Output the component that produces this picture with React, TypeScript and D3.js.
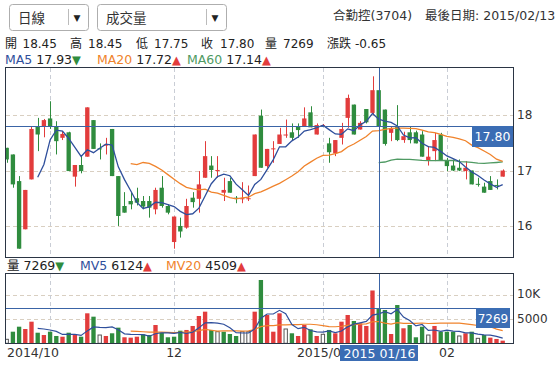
import React, { useEffect, useRef } from "react"
import * as d3 from "d3"

// daily bars 2014/10/23 .. 2015/02/13
const opens = [17.41, 17.29, 16.81, 15.94, 16.84, 17.80, 17.79, 17.94, 17.79, 17.59,
  17.69, 16.89, 17.10, 17.25, 17.91, 17.40, 17.45, 17.75, 16.90, 16.36,
  16.45, 16.50, 16.45, 16.45, 16.30, 16.69, 16.36, 15.71, 16.00, 15.97,
  16.51, 16.49, 16.87, 17.09, 17.00, 16.60, 16.81, 16.51, 16.50, 16.49,
  16.90, 17.99, 17.08, 17.39, 17.48, 17.65, 17.69, 17.79, 17.80, 18.05,
  17.65, 17.82, 17.49, 17.31, 17.59, 17.95, 18.19, 17.74, 18.11, 18.04,
  18.45, 18.10, 17.68, 17.80, 17.55, 17.69, 17.69, 17.65, 17.18, 17.35,
  17.65, 17.19, 17.09, 17.05, 16.99, 17.00, 16.76, 16.71, 16.81, 16.74, 16.89]
const highs = [17.41, 17.29, 16.90, 16.65, 17.80, 17.95, 17.93, 18.25, 17.89, 17.71,
  17.70, 17.10, 17.27, 18.14, 17.91, 17.49, 17.59, 17.75, 16.90, 16.61,
  16.61, 16.69, 16.54, 16.54, 16.69, 16.90, 16.39, 16.17, 16.15, 16.49,
  16.61, 16.99, 17.53, 17.26, 17.26, 16.87, 16.87, 16.54, 16.79, 16.73,
  17.65, 18.10, 17.39, 17.53, 17.77, 17.92, 17.85, 17.85, 18.14, 18.16,
  17.85, 17.84, 17.59, 17.55, 17.86, 18.37, 18.19, 17.89, 18.11, 18.70,
  18.45, 18.10, 17.80, 18.18, 17.70, 17.79, 17.72, 17.71, 17.44, 17.68,
  17.68, 17.23, 17.20, 17.20, 17.17, 17.00, 16.87, 16.78, 16.90, 16.84, 17.02]
const lows = [17.14, 16.69, 15.59, 15.94, 16.84, 17.35, 17.60, 17.75, 17.29, 17.55,
  16.99, 16.71, 16.95, 17.25, 17.39, 17.20, 17.29, 16.90, 16.00, 16.24,
  16.30, 16.37, 16.30, 16.15, 16.21, 16.33, 16.21, 15.59, 15.79, 15.95,
  16.33, 16.24, 16.87, 16.87, 16.87, 16.45, 16.60, 16.41, 16.41, 16.45,
  16.90, 17.05, 17.05, 17.14, 17.48, 17.59, 17.55, 17.59, 17.80, 17.78,
  17.65, 17.80, 17.14, 17.26, 17.47, 17.77, 17.65, 17.74, 17.85, 18.00,
  17.75, 17.45, 17.53, 17.53, 17.50, 17.49, 17.49, 17.25, 17.09, 17.17,
  17.19, 16.99, 16.99, 16.99, 16.84, 16.75, 16.71, 16.60, 16.65, 16.66, 16.89]
const closes = [17.20, 16.75, 15.59, 16.65, 17.75, 17.65, 17.91, 17.80, 17.53, 17.66,
  16.99, 17.10, 16.99, 18.14, 17.39, 17.39, 17.47, 16.90, 16.18, 16.24,
  16.39, 16.42, 16.35, 16.33, 16.65, 16.36, 16.24, 16.17, 15.90, 16.36,
  16.43, 16.75, 17.26, 17.01, 17.01, 16.65, 16.60, 16.50, 16.50, 16.50,
  17.65, 17.05, 17.39, 17.40, 17.65, 17.65, 17.59, 17.73, 17.94, 17.78,
  17.82, 17.82, 17.33, 17.55, 17.75, 18.31, 17.65, 17.86, 17.87, 18.45,
  17.80, 17.48, 17.75, 17.55, 17.62, 17.55, 17.49, 17.25, 17.25, 17.55,
  17.19, 17.08, 17.00, 17.00, 17.05, 16.75, 16.75, 16.60, 16.65, 16.73, 17.00]
const volumes = [830, 2410, 3450, 2970, 4490, 2200, 1720, 2410, 1520, 1370,
  2200, 1720, 1370, 6230, 5530, 1720, 1520, 2080, 3250, 1250,
  1170, 1370, 1870, 1720, 3800, 2200, 1250, 1370, 2620, 2770,
  3600, 5670, 6570, 2770, 2410, 2410, 1930, 1520, 2410, 2410,
  6570, 13150, 5880, 2410, 6230, 2970, 2080, 1520, 3800, 2910,
  1520, 1870, 2770, 2080, 4490, 5880, 4630, 4150, 3600, 10970,
  7269, 6920, 1930, 7950, 3120, 3800, 1250, 3450, 1720, 3600,
  2410, 2410, 2410, 1520, 2080, 2410, 1030, 1720, 1170, 900, 550]

const gridIdx = [7, 27, 51, 71]
const tickIdx = [0, 27, 51, 71]
const tickLabels = ["2014/10", "12", "2015/01", "02"]
const priceTicks = [16, 17, 18]
const volTicks = [5000, 10000]
const volTickLabels = ["5000", "10K"]
const selIdx = 60
const selDate = "2015 01/16"
const stockName = "合勤控(3704)"
const lastDate = "最後日期: 2015/02/13"

const RED = "#e23c3c"
const GREEN = "#2f8c3e"
const BLUE = "#2f4f9c"
const ORANGE = "#f0832c"
const MA60C = "#4f9a63"
const CROSS = "#3a64a6"
const BOX = "#3b6db4"
const FONT = "'DejaVu Sans', 'Noto Sans CJK TC', sans-serif"

const ma = (arr: number[], n: number) =>
  arr.map((_, i) => (i < n ? null : (d3.mean(arr.slice(i - n + 1, i + 1)) as number)))

export default function App() {
  const ref = useRef<SVGSVGElement>(null)

  useEffect(() => {
    const svg = d3.select(ref.current)
    svg.selectAll("*").remove()
    const n = closes.length
    const idx = d3.range(n)

    const x = d3.scaleBand<number>().domain(idx).range([3.6, 505.8]).paddingInner(0.3).paddingOuter(0.15)
    const bw = x.bandwidth()
    const cx = (i: number) => (x(i) as number) + bw / 2
    const y = d3.scaleLinear().domain([15.44, 18.85]).range([257, 68])
    const yv = d3.scaleLinear().domain([0, 14395]).range([343.3, 274])

    const defs = svg.append("defs")
    defs.append("clipPath").attr("id", "pclip").append("rect").attr("x", 5.5).attr("y", 68).attr("width", 507).attr("height", 189)
    defs.append("clipPath").attr("id", "vclip").append("rect").attr("x", 5.5).attr("y", 274).attr("width", 507).attr("height", 69)

    // ---- header
    const drop = (x0: number, w: number, sep: number, label: string) => {
      svg.append("rect").attr("x", x0 + 0.5).attr("y", 4.5).attr("width", w).attr("height", 26).attr("rx", 3)
        .attr("fill", "white").attr("stroke", "#aeaeae")
      svg.append("text").attr("x", x0 + 9).attr("y", 22.5).attr("font-size", 13.5).attr("fill", "#333").text(label)
      svg.append("line").attr("x1", sep + 0.5).attr("x2", sep + 0.5).attr("y1", 9).attr("y2", 25).attr("stroke", "#bbb")
      svg.append("text").attr("x", sep + 9).attr("y", 21).attr("font-size", 9).attr("text-anchor", "middle").attr("fill", "#222").text("▼")
    }
    drop(9, 79, 68, "日線")
    drop(97, 129, 206, "成交量")

    svg.append("text").attr("x", 333).attr("y", 19.5).attr("font-size", 12.5).attr("fill", "#333").text(stockName)
    svg.append("text").attr("x", 425).attr("y", 19.5).attr("font-size", 12.5).attr("fill", "#333").text(lastDate)

    const chg = closes[selIdx] - closes[selIdx - 1]
    const row2 = [
      [5, "開"], [22.5, opens[selIdx].toFixed(2)], [70, "高"], [88, highs[selIdx].toFixed(2)],
      [136, "低"], [154, lows[selIdx].toFixed(2)], [201, "收"], [220, closes[selIdx].toFixed(2)],
      [265, "量"], [283, String(volumes[selIdx])], [327, "漲跌"], [355, chg.toFixed(2)],
    ] as [number, string][]
    row2.forEach(([px, t]) => svg.append("text").attr("x", px).attr("y", 47.5).attr("font-size", 12).attr("fill", "#222").text(t))

    const ma5 = ma(closes, 5), ma20 = ma(closes, 20), ma60 = ma(closes, 60)
    const mv5 = ma(volumes, 5), mv20 = ma(volumes, 20)
    const arrow = (s: (number | null)[]) => ((s[selIdx] as number) >= (s[selIdx - 1] as number) ? ["▲", RED] : ["▼", GREEN])

    const legend = (yy: number, items: [number, string, string, string, (number | null)[]][]) => {
      items.forEach(([px, name, col, val, s]) => {
        const t = svg.append("text").attr("x", px).attr("y", yy).attr("font-size", 12.5).attr("xml:space", "preserve")
        t.append("tspan").attr("fill", col).text(name)
        t.append("tspan").attr("fill", "#222").text(" " + val)
        const [a, ac] = arrow(s)
        t.append("tspan").attr("fill", ac).attr("font-size", 11.5).text(a)
      })
    }
    legend(64, [
      [5, "MA5", BLUE, (ma5[selIdx] as number).toFixed(2), ma5],
      [97, "MA20", ORANGE, (ma20[selIdx] as number).toFixed(2), ma20],
      [187, "MA60", MA60C, (ma60[selIdx] as number).toFixed(2), ma60],
    ])
    legend(270, [
      [7, "量", "#222", String(volumes[selIdx]), volumes],
      [80, "MV5", BLUE, String(Math.round(mv5[selIdx] as number)), mv5],
      [166, "MV20", ORANGE, String(Math.round(mv20[selIdx] as number)), mv20],
    ])

    // ---- grid
    const grid = svg.append("g")
    priceTicks.forEach(p => {
      grid.append("line").attr("x1", 6).attr("x2", 513).attr("y1", Math.round(y(p)) + 0.5).attr("y2", Math.round(y(p)) + 0.5)
        .attr("stroke", "#d9cfc1").attr("stroke-dasharray", "4,3")
    })
    volTicks.forEach(v => {
      grid.append("line").attr("x1", 6).attr("x2", 513).attr("y1", Math.round(yv(v)) + 0.5).attr("y2", Math.round(yv(v)) + 0.5)
        .attr("stroke", "#d9cfc1").attr("stroke-dasharray", "4,3")
    })
    gridIdx.forEach(i => {
      const gx = Math.round(cx(i)) + 0.5
      grid.append("line").attr("x1", gx).attr("x2", gx).attr("y1", 68).attr("y2", 257).attr("stroke", "#c9cdd5").attr("stroke-dasharray", "4,3")
      grid.append("line").attr("x1", gx).attr("x2", gx).attr("y1", 274).attr("y2", 343).attr("stroke", "#c9cdd5").attr("stroke-dasharray", "4,3")
    })

    // ---- candles
    const pg = svg.append("g").attr("clip-path", "url(#pclip)")
    const cc = (i: number) => (closes[i] >= opens[i] ? RED : GREEN)
    pg.selectAll("line.wick").data(idx).enter().append("line")
      .attr("x1", i => Math.round(cx(i)) + 0.5).attr("x2", i => Math.round(cx(i)) + 0.5)
      .attr("y1", i => y(highs[i])).attr("y2", i => y(lows[i]))
      .attr("stroke", cc).attr("stroke-width", 1)
    pg.selectAll("rect.body").data(idx).enter().append("rect")
      .attr("x", i => x(i) as number).attr("width", bw)
      .attr("y", i => y(Math.max(opens[i], closes[i])))
      .attr("height", i => Math.max(1, Math.abs(y(opens[i]) - y(closes[i]))))
      .attr("fill", cc)

    const line = d3.line<number | null>().defined(d => d != null).x((_, i) => cx(i)).y(d => y(d as number))
    pg.append("path").attr("d", line(ma60)).attr("fill", "none").attr("stroke", MA60C).attr("stroke-width", 1.3)
    pg.append("path").attr("d", line(ma20)).attr("fill", "none").attr("stroke", ORANGE).attr("stroke-width", 1.3)
    pg.append("path").attr("d", line(ma5)).attr("fill", "none").attr("stroke", BLUE).attr("stroke-width", 1.3)

    // ---- volume
    const vg = svg.append("g").attr("clip-path", "url(#vclip)")
    const vcol = (i: number) => (i === 0 || closes[i] === closes[i - 1] ? "hollow" : closes[i] > closes[i - 1] ? RED : GREEN)
    vg.selectAll("rect.vol").data(idx).enter().append("rect")
      .attr("x", i => (x(i) as number) + (vcol(i) === "hollow" ? 0.5 : 0))
      .attr("width", i => (vcol(i) === "hollow" ? bw - 1 : bw))
      .attr("y", i => yv(volumes[i]))
      .attr("height", i => yv(0) - yv(volumes[i]))
      .attr("fill", i => (vcol(i) === "hollow" ? "white" : vcol(i)))
      .attr("stroke", i => (vcol(i) === "hollow" ? "#555" : "none"))
    const vline = d3.line<number | null>().defined(d => d != null).x((_, i) => cx(i)).y(d => yv(d as number))
    vg.append("path").attr("d", vline(mv20)).attr("fill", "none").attr("stroke", ORANGE).attr("stroke-width", 1.2)
    vg.append("path").attr("d", vline(mv5)).attr("fill", "none").attr("stroke", BLUE).attr("stroke-width", 1.2)

    // ---- frames
    svg.append("rect").attr("x", 5.5).attr("y", 67.5).attr("width", 508).attr("height", 190).attr("fill", "none").attr("stroke", "#2b3544")
    svg.append("rect").attr("x", 5.5).attr("y", 273.5).attr("width", 508).attr("height", 70).attr("fill", "none").attr("stroke", "#2b3544")

    // ---- axes labels
    priceTicks.forEach(p => {
      svg.append("text").attr("x", 517).attr("y", y(p)).attr("dy", "0.36em").attr("font-size", 12).attr("fill", "#333").text(String(p))
    })
    volTicks.forEach((v, k) => {
      svg.append("text").attr("x", 517).attr("y", yv(v) - 1).attr("dy", "0.36em").attr("font-size", 12).attr("fill", "#333").text(volTickLabels[k])
    })
    tickIdx.forEach((i, k) => {
      svg.append("text").attr("x", i === 0 ? 7 : cx(i)).attr("y", 357)
        .attr("text-anchor", i === 0 ? "start" : "middle").attr("font-size", 12.5).attr("fill", "#333").text(tickLabels[k])
    })

    // ---- crosshair
    const sx = Math.round(cx(selIdx)) + 0.5
    const sy = Math.round(y(closes[selIdx])) + 0.5
    const svy = Math.round(yv(volumes[selIdx])) + 0.5
    svg.append("line").attr("x1", 6).attr("x2", 513).attr("y1", sy).attr("y2", sy).attr("stroke", CROSS)
    svg.append("line").attr("x1", sx).attr("x2", sx).attr("y1", 68).attr("y2", 257).attr("stroke", CROSS)
    svg.append("line").attr("x1", sx).attr("x2", sx).attr("y1", 274).attr("y2", 343).attr("stroke", CROSS)
    svg.append("line").attr("x1", 6).attr("x2", 476).attr("y1", svy).attr("y2", svy).attr("stroke", CROSS)

    svg.append("rect").attr("x", 472).attr("y", sy - 0.5).attr("width", 41).attr("height", 21).attr("fill", BOX)
    svg.append("text").attr("x", 492.5).attr("y", sy + 14).attr("text-anchor", "middle").attr("font-size", 12.5).attr("fill", "white")
      .text(closes[selIdx].toFixed(2))
    svg.append("rect").attr("x", 476).attr("y", svy - 0.5).attr("width", 34).attr("height", 20).attr("fill", BOX)
    svg.append("text").attr("x", 493).attr("y", svy + 14).attr("text-anchor", "middle").attr("font-size", 12).attr("fill", "white")
      .text(String(volumes[selIdx]))
    svg.append("rect").attr("x", 340).attr("y", 345).attr("width", 78).attr("height", 16).attr("fill", BOX)
    svg.append("text").attr("x", sx).attr("y", 357.5).attr("text-anchor", "middle").attr("font-size", 12.5).attr("fill", "white").text(selDate)
  }, [])

  return (
    <svg ref={ref} width={559} height={369}
      style={{ position: "absolute", left: 0, top: 0, background: "white", fontFamily: FONT }} />
  )
}
